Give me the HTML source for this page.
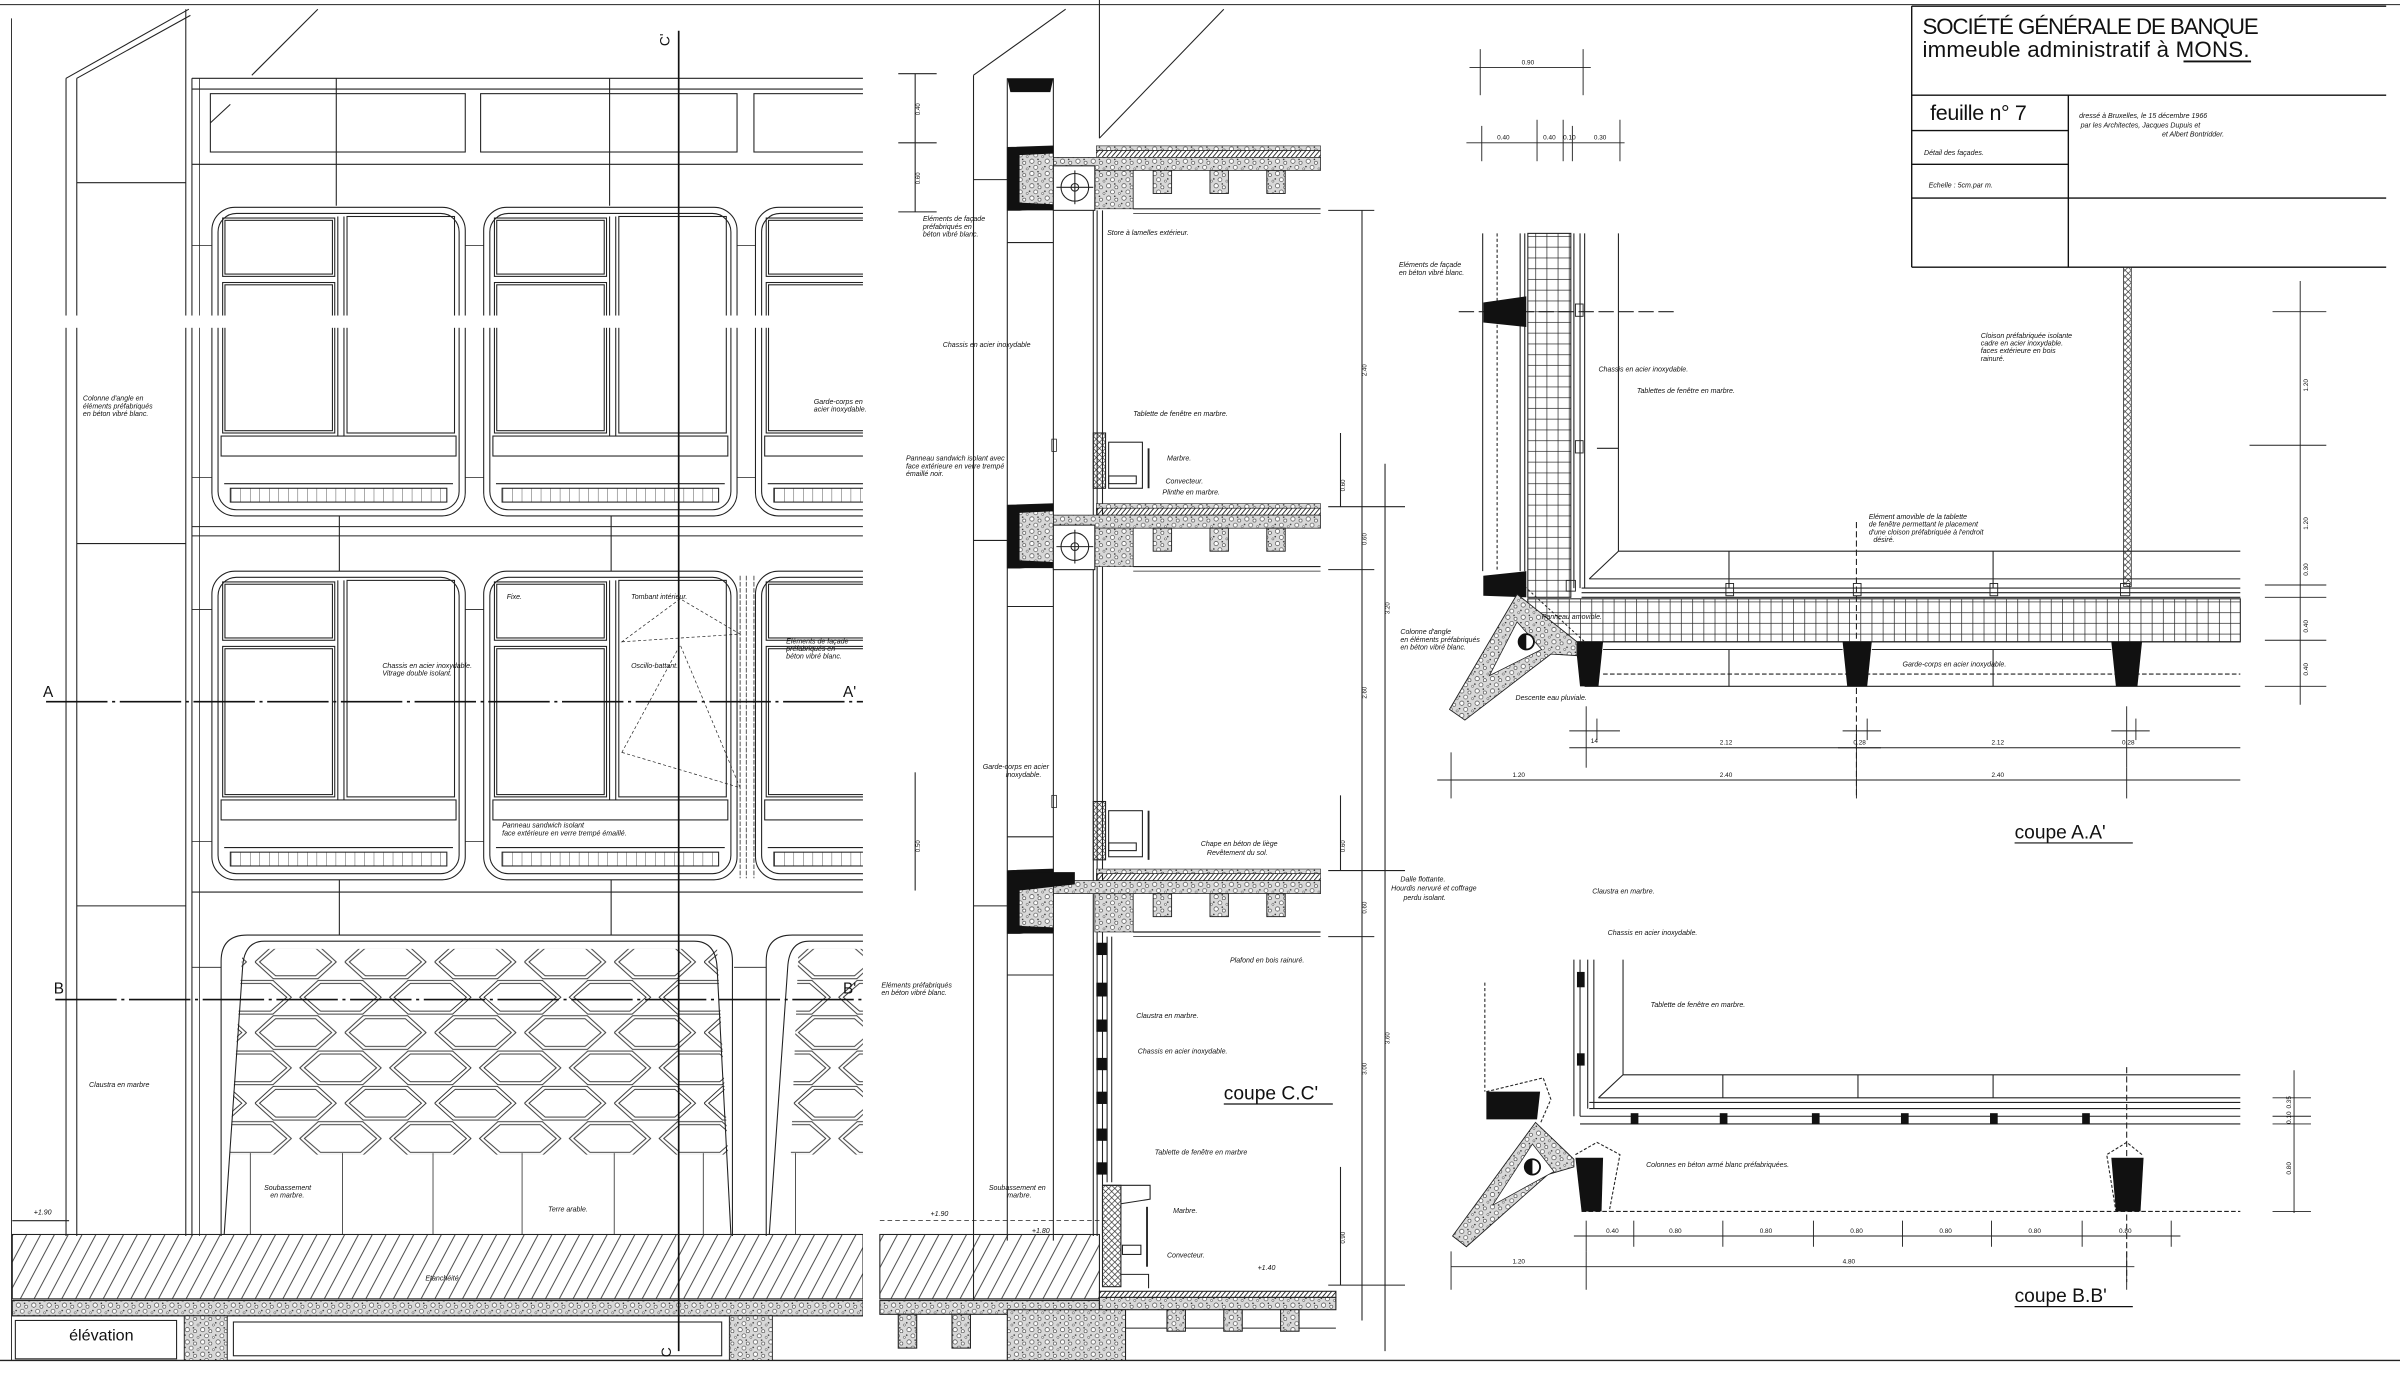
<!DOCTYPE html>
<html><head><meta charset="utf-8"><style>
html,body{margin:0;padding:0;background:#fff;}
svg{display:block;}
.t{font-family:"Liberation Sans",sans-serif;font-style:italic;font-size:4.6px;fill:#111;}
.T{font-family:"Liberation Sans",sans-serif;fill:#111;}
</style></head><body>
<svg width="2400" height="1398" viewBox="0 0 1563 910.5" preserveAspectRatio="none" xmlns="http://www.w3.org/2000/svg">
<defs>
<pattern id="hatch" patternUnits="userSpaceOnUse" width="9" height="40" patternTransform="skewX(-28)">
<line x1="4" y1="0" x2="4" y2="40" stroke="#222" stroke-width="0.6"/></pattern>
<pattern id="fine" patternUnits="userSpaceOnUse" width="3" height="10" patternTransform="skewX(-40)">
<line x1="1" y1="0" x2="1" y2="10" stroke="#111" stroke-width="0.7"/></pattern>
<pattern id="grav" patternUnits="userSpaceOnUse" width="10" height="8">
<rect width="10" height="8" fill="#d8d8d8"/>
<circle cx="2" cy="2" r="1.4" fill="#fff" stroke="#222" stroke-width="0.35"/>
<circle cx="7" cy="3" r="1" fill="#fff" stroke="#222" stroke-width="0.35"/>
<circle cx="4.5" cy="6" r="1.3" fill="#fff" stroke="#222" stroke-width="0.35"/>
<circle cx="9" cy="7" r="0.7" fill="#fff" stroke="#222" stroke-width="0.3"/>
<circle cx="0.5" cy="5.5" r="0.5" fill="#222"/><circle cx="6" cy="0.8" r="0.5" fill="#222"/>
</pattern>
<pattern id="grid" patternUnits="userSpaceOnUse" width="7.3" height="7">
<rect width="7.3" height="7" fill="none" stroke="#222" stroke-width="0.45"/></pattern>
<pattern id="xh" patternUnits="userSpaceOnUse" width="4" height="4">
<path d="M0 0L4 4M4 0L0 4" stroke="#222" stroke-width="0.4"/></pattern>
<pattern id="hex" patternUnits="userSpaceOnUse" x="166" y="615" width="58.5" height="46">
<g fill="none" stroke="#222" stroke-width="0.55">
<polygon points="0,11.5 12,0.5 41,0.5 53,11.5 41,22.5 12,22.5"/>
<polygon points="3,11.5 13.5,2.5 39.5,2.5 50,11.5 39.5,20.5 13.5,20.5"/>
<polygon points="29.25,34.5 41.25,23.5 70.25,23.5 82.25,34.5 70.25,45.5 41.25,45.5"/>
<polygon points="32.25,34.5 42.75,25.5 68.75,25.5 79.25,34.5 68.75,43.5 42.75,43.5"/>
<polygon points="-29.25,34.5 -17.25,23.5 11.75,23.5 23.75,34.5 11.75,45.5 -17.25,45.5"/>
<polygon points="-26.25,34.5 -15.75,25.5 10.25,25.5 20.75,34.5 10.25,43.5 -15.75,43.5"/>
</g></pattern>
<pattern id="grill" patternUnits="userSpaceOnUse" width="6.2" height="20">
<line x1="0" y1="0" x2="0" y2="20" stroke="#222" stroke-width="0.5"/></pattern>

<g id="win" fill="none" stroke="#222" stroke-width="0.7">
<rect x="0" y="0" width="165" height="201" rx="15"/>
<rect x="4" y="4" width="157" height="193" rx="12"/>
<rect x="7" y="7" width="73" height="38"/><rect x="8.5" y="8.5" width="70" height="35"/>
<rect x="7" y="49" width="73" height="98"/><rect x="8.5" y="50.5" width="70" height="95"/>
<line x1="82" y1="6" x2="82" y2="149"/><line x1="86" y1="6" x2="86" y2="149"/>
<rect x="88" y="6" width="70" height="141"/>
<rect x="6" y="149" width="153" height="13"/>
<line x1="8" y1="180" x2="157" y2="180"/>
<rect x="12" y="183" width="141" height="9" fill="url(#grill)"/>
</g>
<g id="slab">
<rect x="714" y="0" width="146" height="3" fill="url(#grav)" stroke="#222" stroke-width="0.4"/>
<rect x="714" y="3" width="146" height="4.5" fill="url(#fine)" stroke="#222" stroke-width="0.4"/>
<rect x="686" y="7.5" width="174" height="8.5" fill="url(#grav)" stroke="#222" stroke-width="0.5"/>
<rect x="713" y="16" width="25" height="25" fill="url(#grav)" stroke="#222" stroke-width="0.4"/>
<rect x="751" y="16" width="12" height="15" fill="url(#grav)" stroke="#222" stroke-width="0.6"/>
<rect x="788" y="16" width="12" height="15" fill="url(#grav)" stroke="#222" stroke-width="0.6"/>
<rect x="825" y="16" width="12" height="15" fill="url(#grav)" stroke="#222" stroke-width="0.6"/>
<line x1="738" y1="41" x2="860" y2="41" stroke="#222" stroke-width="0.8"/>
<line x1="738" y1="44" x2="860" y2="44" stroke="#222" stroke-width="0.5"/>
<line x1="738" y1="16" x2="738" y2="41" stroke="#222" stroke-width="0.5"/>
<path d="M656 1L686 0V40L664 42L656 42Z" fill="url(#grav)" stroke="#222" stroke-width="0.5"/>
<path d="M656 1L686 0V5L664 6V37L686 38V42L656 42Z" fill="#111"/>
</g>
<clipPath id="elc"><rect x="0" y="0" width="562" height="910"/></clipPath>
</defs>

<rect width="1563" height="910.5" fill="#fff"/>
<g stroke="#222" fill="none">
<line x1="0" y1="3" x2="1563" y2="3" stroke-width="0.6"/>
<line x1="0" y1="886" x2="1563" y2="886" stroke-width="0.9"/>
<line x1="7.5" y1="12" x2="7.5" y2="886" stroke-width="0.6"/>
</g>

<!-- ELEVATION -->
<g clip-path="url(#elc)" stroke="#222" fill="none" stroke-width="0.7">
<line x1="43" y1="51" x2="43" y2="805"/><line x1="50" y1="51" x2="50" y2="805"/>
<line x1="43" y1="51" x2="123" y2="6"/><line x1="50" y1="51" x2="124" y2="10"/>
<line x1="164" y1="49" x2="207" y2="6"/>
<line x1="121" y1="6" x2="121" y2="805"/><line x1="125" y1="51" x2="125" y2="805"/>
<line x1="50" y1="119" x2="121" y2="119"/><line x1="50" y1="354" x2="121" y2="354"/><line x1="50" y1="590" x2="121" y2="590"/>
<line x1="125" y1="51" x2="562" y2="51"/><line x1="125" y1="58" x2="562" y2="58"/>
<line x1="125" y1="107" x2="562" y2="107"/>
<rect x="137" y="61" width="166" height="38"/><rect x="313" y="61" width="167" height="38"/><rect x="491" y="61" width="80" height="38"/>
<line x1="137" y1="80" x2="150" y2="68"/>
<line x1="219" y1="51" x2="219" y2="134"/><line x1="397" y1="51" x2="397" y2="134"/>
<use href="#win" x="138" y="135"/><use href="#win" x="315" y="135"/><use href="#win" x="492" y="135"/>
<use href="#win" x="138" y="372"/><use href="#win" x="315" y="372"/><use href="#win" x="492" y="372"/>
<line x1="125" y1="343" x2="562" y2="343"/><line x1="125" y1="349" x2="562" y2="349"/>
<line x1="125" y1="581" x2="562" y2="581"/>
<line x1="221" y1="336" x2="221" y2="372"/><line x1="398" y1="336" x2="398" y2="372"/>
<line x1="221" y1="573" x2="221" y2="609"/><line x1="398" y1="573" x2="398" y2="609"/>
<g stroke-width="0.5"><line x1="125" y1="160" x2="138" y2="160"/><line x1="303" y1="160" x2="315" y2="160"/><line x1="480" y1="160" x2="492" y2="160"/>
<line x1="125" y1="311" x2="138" y2="311"/><line x1="303" y1="311" x2="315" y2="311"/><line x1="480" y1="311" x2="492" y2="311"/>
<line x1="125" y1="397" x2="138" y2="397"/><line x1="303" y1="397" x2="315" y2="397"/>
<line x1="125" y1="548" x2="138" y2="548"/><line x1="303" y1="548" x2="315" y2="548"/>
<line x1="125" y1="630" x2="144" y2="630"/><line x1="478" y1="630" x2="499" y2="630"/>
<line x1="130" y1="51" x2="130" y2="805"/>
</g>
<g stroke-width="0.45" stroke-dasharray="2,1.5"><path d="M405 418L482 413L443 390Z"/><path d="M405 490L482 513L443 420Z"/></g>
<g stroke-width="0.5" stroke-dasharray="3,1"><line x1="482" y1="375" x2="482" y2="572"/><line x1="486" y1="375" x2="486" y2="572"/><line x1="491" y1="375" x2="491" y2="572"/></g>
<path d="M158 618L467 618L477 804L146 804Z" fill="url(#hex)" stroke="none"/>
<rect x="146" y="752" width="332" height="53" fill="#fff" stroke="none"/>
<path d="M144 805V626Q144 609 161 609H461Q477 609 477 626V805"/>
<path d="M146 804L158 630Q159 613 172 613H452Q466 613 467 630L476 804"/>
<path d="M499 805V626Q499 609 516 609H570"/>
<path d="M520 618L580 618L580 752L515 752Z" fill="url(#hex)" stroke="none"/>
<path d="M501 804L513 630Q514 613 527 613H570"/>
<g stroke-width="0.5"><line x1="163" y1="751" x2="163" y2="804"/><line x1="223" y1="751" x2="223" y2="804"/><line x1="282" y1="751" x2="282" y2="804"/><line x1="340" y1="751" x2="340" y2="804"/><line x1="400" y1="751" x2="400" y2="804"/><line x1="458" y1="751" x2="458" y2="804"/>
<line x1="518" y1="751" x2="518" y2="804"/></g>
<rect x="8" y="804" width="554" height="42" fill="url(#hatch)"/>
<line x1="8" y1="804" x2="562" y2="804"/><line x1="8" y1="846" x2="562" y2="846"/>
<rect x="8" y="847" width="554" height="10" fill="url(#grav)"/>
<line x1="8" y1="857" x2="562" y2="857"/>
<rect x="120" y="857" width="28" height="29" fill="url(#grav)" stroke-width="0.6"/>
<rect x="475" y="857" width="28" height="29" fill="url(#grav)" stroke-width="0.6"/>
<rect x="152" y="861" width="318" height="22"/>
<rect x="10" y="860" width="105" height="25"/>
<line x1="8" y1="795" x2="45" y2="795"/>
</g>
<rect x="20" y="205.5" width="545" height="8" fill="#fff"/>
<g stroke="#111" stroke-width="1.1" fill="none">
<line x1="30" y1="457" x2="562" y2="457" stroke-dasharray="40,3,2,3"/>
<line x1="36" y1="651" x2="562" y2="651" stroke-dasharray="40,3,2,3"/>
<line x1="442" y1="20" x2="442" y2="880"/>
</g>
<text class="T" x="28" y="454" font-size="10">A</text>
<text class="T" x="549" y="454" font-size="10">A'</text>
<text class="T" x="35" y="647" font-size="10">B</text>
<text class="T" x="549" y="647" font-size="10">B'</text>
<text class="T" x="0" y="0" font-size="9" transform="translate(436,30) rotate(-90)">C'</text>
<text class="T" x="0" y="0" font-size="9" transform="translate(437,884) rotate(-90)">C</text>
<text class="T" x="45" y="873" font-size="10.5">élévation</text>
<g class="t">
<text x="54" y="261">Colonne d'angle en</text><text x="54" y="266">éléments préfabriqués</text><text x="54" y="271">en béton vibré blanc.</text>
<text x="530" y="263">Garde-corps en</text><text x="530" y="268">acier inoxydable.</text>
<text x="330" y="390">Fixe.</text><text x="411" y="390">Tombant intérieur.</text>
<text x="512" y="419">Eléments de façade</text><text x="512" y="424">préfabriqués en</text><text x="512" y="429">béton vibré blanc.</text>
<text x="249" y="435">Chassis en acier inoxydable.</text><text x="249" y="440">Vitrage double isolant.</text>
<text x="411" y="435">Oscillo-battant.</text>
<text x="327" y="539">Panneau sandwich isolant</text><text x="327" y="544">face extérieure en verre trempé émaillé.</text>
<text x="58" y="708">Claustra en marbre</text>
<text x="172" y="775">Soubassement</text><text x="176" y="780">en marbre.</text>
<text x="357" y="789">Terre arable.</text><text x="277" y="834">Etanchéité</text><text x="22" y="791">+1.90</text>
</g>

<!-- COUPE C-C -->
<g stroke="#222" fill="none" stroke-width="0.7">
<line x1="634" y1="49" x2="634" y2="848"/><line x1="634" y1="49" x2="694" y2="6"/>
<line x1="716" y1="0" x2="716" y2="90"/><line x1="716" y1="90" x2="797" y2="6"/>
<line x1="656" y1="51" x2="656" y2="808"/><line x1="686" y1="51" x2="686" y2="808"/>
<line x1="634" y1="117" x2="656" y2="117"/><line x1="634" y1="352" x2="656" y2="352"/><line x1="634" y1="590" x2="656" y2="590"/>
<line x1="656" y1="158" x2="686" y2="158"/><line x1="656" y1="395" x2="686" y2="395"/><line x1="656" y1="545" x2="686" y2="545"/><line x1="656" y1="635" x2="686" y2="635"/>
<line x1="712" y1="137" x2="712" y2="805"/><line x1="714.5" y1="137" x2="714.5" y2="805"/><line x1="718" y1="137" x2="718" y2="805"/>
</g>
<path d="M656 51H686L684 60H658Z" fill="#111"/>
<use href="#slab" y="95"/><use href="#slab" y="328"/><use href="#slab" y="566"/>
<g stroke="#222" fill="none" stroke-width="0.7">
<rect x="686" y="108" width="27" height="29" fill="#fff"/><circle cx="700" cy="122" r="9"/><circle cx="700" cy="122" r="2.5"/><line x1="688" y1="122" x2="712" y2="122"/><line x1="700" y1="111" x2="700" y2="133"/>
<rect x="686" y="342" width="27" height="29" fill="#fff"/><circle cx="700" cy="356" r="9"/><circle cx="700" cy="356" r="2.5"/><line x1="688" y1="356" x2="712" y2="356"/><line x1="700" y1="345" x2="700" y2="367"/>
<rect x="712" y="282" width="8" height="36" fill="url(#xh)"/><rect x="722" y="288" width="22" height="30"/><rect x="722" y="310" width="18" height="5"/><line x1="748" y1="292" x2="748" y2="318" stroke-width="1.2"/>
<rect x="712" y="522" width="8" height="38" fill="url(#xh)"/><rect x="722" y="528" width="22" height="30"/><rect x="722" y="549" width="18" height="5"/><line x1="748" y1="528" x2="748" y2="560" stroke-width="1.2"/>
<rect x="685" y="286" width="3" height="8" stroke-width="0.5"/><rect x="685" y="518" width="3" height="8" stroke-width="0.5"/>
</g>
<path d="M656 568H700V576L664 580V608H656Z" fill="#111"/>
<g fill="#111"><rect x="714" y="614" width="7" height="8"/><rect x="714" y="640" width="7" height="9"/><rect x="714" y="664" width="7" height="8"/><rect x="714" y="689" width="7" height="8"/><rect x="714" y="711" width="7" height="8"/><rect x="714" y="735" width="7" height="8"/><rect x="714" y="757" width="7" height="8"/></g>
<g stroke="#222" fill="none" stroke-width="0.7">
<line x1="721" y1="610" x2="721" y2="770"/><line x1="724" y1="610" x2="724" y2="770"/>
<rect x="718" y="772" width="12" height="66" fill="url(#xh)"/>
<path d="M718 772H749V781L730 784"/><line x1="747" y1="786" x2="747" y2="825" stroke-width="1.2"/>
<rect x="731" y="811" width="12" height="6"/><path d="M730 830H748V839"/>
<rect x="573" y="804" width="143" height="42" fill="url(#hatch)"/>
<line x1="573" y1="804" x2="716" y2="804"/><line x1="573" y1="846" x2="716" y2="846"/>
<line x1="573" y1="795" x2="720" y2="795" stroke-dasharray="3,2" stroke-width="0.5"/>
<rect x="573" y="847" width="143" height="9" fill="url(#grav)"/>
<rect x="716" y="841" width="154" height="4" fill="url(#fine)"/>
<rect x="716" y="845" width="154" height="8" fill="url(#grav)"/>
<line x1="730" y1="865" x2="870" y2="865"/>
<rect x="656" y="853" width="77" height="33" fill="url(#grav)"/>
<rect x="585" y="856" width="12" height="22" fill="url(#grav)"/><rect x="620" y="856" width="12" height="22" fill="url(#grav)"/>
<rect x="760" y="853" width="12" height="14" fill="url(#grav)"/><rect x="797" y="853" width="12" height="14" fill="url(#grav)"/><rect x="834" y="853" width="12" height="14" fill="url(#grav)"/>
<line x1="887" y1="137" x2="887" y2="860"/><line x1="902" y1="302" x2="902" y2="880"/>
<line x1="596" y1="48" x2="596" y2="138"/><line x1="596" y1="503" x2="596" y2="580"/>
<line x1="585" y1="48" x2="610" y2="48"/><line x1="585" y1="93" x2="610" y2="93"/><line x1="585" y1="138" x2="610" y2="138"/>
<line x1="865" y1="137" x2="895" y2="137"/><line x1="865" y1="330" x2="915" y2="330"/><line x1="865" y1="371" x2="895" y2="371"/><line x1="865" y1="567" x2="915" y2="567"/><line x1="865" y1="610" x2="895" y2="610"/><line x1="865" y1="837" x2="915" y2="837"/>
<line x1="873" y1="282" x2="873" y2="330"/><line x1="873" y1="518" x2="873" y2="567"/><line x1="873" y1="760" x2="873" y2="837"/>
</g>
<g class="T" font-size="4" transform="rotate(-90)">
<text x="-245" y="890">2.40</text><text x="-455" y="890">2.60</text><text x="-700" y="890">3.00</text><text x="-400" y="905">3.20</text><text x="-680" y="905">3.60</text>
<text x="-355" y="890">0.60</text><text x="-595" y="890">0.60</text><text x="-320" y="876">0.60</text><text x="-555" y="876">0.60</text><text x="-810" y="876">0.90</text>
<text x="-120" y="599">0.60</text><text x="-75" y="599">0.40</text><text x="-555" y="599">0.50</text>
</g>
<text class="T" x="797" y="716" font-size="12.5">coupe C.C'</text>
<line x1="797" y1="719" x2="868" y2="719" stroke="#111" stroke-width="0.8"/>
<g class="t">
<text x="601" y="144">Eléments de façade</text><text x="601" y="149">préfabriqués en</text><text x="601" y="154">béton vibré blanc.</text>
<text x="721" y="153">Store à lamelles extérieur.</text>
<text x="614" y="226">Chassis en acier inoxydable</text>
<text x="738" y="271">Tablette de fenêtre en marbre.</text>
<text x="590" y="300">Panneau sandwich isolant avec</text><text x="590" y="305">face extérieure en verre trempé</text><text x="590" y="310">émaillé noir.</text>
<text x="760" y="300">Marbre.</text><text x="759" y="315">Convecteur.</text><text x="757" y="322">Plinthe en marbre.</text>
<text x="640" y="501">Garde-corps en acier</text><text x="655" y="506">inoxydable.</text>
<text x="782" y="551">Chape en béton de liège</text><text x="786" y="557">Revêtement du sol.</text>
<text x="912" y="574">Dalle flottante.</text><text x="906" y="580">Hourdis nervuré et coffrage</text><text x="914" y="586">perdu isolant.</text>
<text x="801" y="627">Plafond en bois rainuré.</text>
<text x="574" y="643">Eléments préfabriqués</text><text x="574" y="648">en béton vibré blanc.</text>
<text x="740" y="663">Claustra en marbre.</text><text x="741" y="686">Chassis en acier inoxydable.</text>
<text x="752" y="752">Tablette de fenêtre en marbre</text>
<text x="644" y="775">Soubassement en</text><text x="656" y="780">marbre.</text>
<text x="764" y="790">Marbre.</text><text x="760" y="819">Convecteur.</text>
<text x="819" y="827">+1.40</text><text x="672" y="803">+1.80</text><text x="606" y="792">+1.90</text>
</g>

<!-- TITLE BLOCK -->
<g stroke="#111" fill="none" stroke-width="0.9">
<line x1="1245" y1="4" x2="1245" y2="174"/><line x1="1245" y1="4" x2="1554" y2="4"/>
<line x1="1245" y1="62" x2="1554" y2="62"/><line x1="1245" y1="85" x2="1347" y2="85"/>
<line x1="1245" y1="107" x2="1347" y2="107"/><line x1="1245" y1="129" x2="1554" y2="129"/>
<line x1="1347" y1="62" x2="1347" y2="174"/><line x1="1245" y1="174" x2="1554" y2="174"/>
</g>
<text class="T" x="1252" y="22" font-size="14.5" textLength="219">SOCIÉTÉ GÉNÉRALE DE BANQUE</text>
<text class="T" x="1252" y="37" font-size="14.5" textLength="213">immeuble administratif à MONS.</text>
<line x1="1422" y1="40" x2="1466" y2="40" stroke="#111" stroke-width="1.2"/>
<text class="T" x="1257" y="78" font-size="14" textLength="63">feuille n° 7</text>
<g class="t" font-size="4.6">
<text x="1253" y="101">Détail des façades.</text><text x="1256" y="122">Echelle : 5cm.par m.</text>
<text x="1354" y="77">dressé à Bruxelles, le 15 décembre 1966</text>
<text x="1355" y="83">par les Architectes, Jacques Dupuis et</text>
<text x="1408" y="89">et Albert Bontridder.</text>
</g>

<!-- COUPE A-A -->
<g stroke="#222" fill="none" stroke-width="0.7">
<line x1="965.6" y1="152" x2="965.6" y2="372"/><line x1="975" y1="152" x2="975" y2="372" stroke-dasharray="2,1.5"/>
<line x1="990" y1="152" x2="990" y2="372"/><line x1="993" y1="152" x2="993" y2="372"/>
<rect x="995" y="152" width="28" height="237" fill="url(#grid)"/>
<line x1="1025" y1="152" x2="1025" y2="383"/><line x1="1029" y1="152" x2="1029" y2="383"/><line x1="1032" y1="152" x2="1032" y2="383"/>
<line x1="1054" y1="152" x2="1054" y2="359"/>
<line x1="1054" y1="359" x2="1459" y2="359"/><line x1="1054" y1="359" x2="1035" y2="377"/>
<line x1="1035" y1="377" x2="1459" y2="377"/>
<line x1="1030" y1="383" x2="1459" y2="383"/><line x1="1030" y1="386" x2="1459" y2="386"/><line x1="1030" y1="389" x2="1459" y2="389"/>
<rect x="995" y="390" width="464" height="28" fill="url(#grid)"/>
<line x1="995" y1="418" x2="1459" y2="418"/>
<line x1="1044" y1="423" x2="1200" y2="423"/><line x1="1219" y1="423" x2="1375" y2="423"/>
<line x1="1044" y1="439" x2="1459" y2="439" stroke-dasharray="3,1.5"/>
<line x1="1032" y1="447" x2="1459" y2="447"/>
<line x1="1126" y1="359" x2="1126" y2="383"/><line x1="1298" y1="359" x2="1298" y2="383"/>
<line x1="1126" y1="423" x2="1126" y2="447"/><line x1="1298" y1="423" x2="1298" y2="447"/>
<line x1="1209" y1="340" x2="1209" y2="520" stroke-dasharray="4,2"/>
<line x1="950" y1="203" x2="1090" y2="203" stroke-dasharray="10,3"/><line x1="1040" y1="292" x2="1054" y2="292"/>
<line x1="993" y1="382" x2="1032" y2="418" stroke-dasharray="1.5,1.5"/>
<g stroke-width="0.6"><rect x="1020" y="378" width="6" height="7"/><rect x="1207" y="380" width="5" height="8"/><rect x="1296" y="380" width="5" height="8"/><rect x="1124" y="380" width="5" height="8"/><rect x="1381" y="380" width="6" height="8"/><rect x="1026" y="198" width="5" height="8"/><rect x="1026" y="287" width="5" height="8"/></g>
</g>
<rect x="1383" y="174" width="5" height="208" fill="url(#xh)" stroke="#222" stroke-width="0.5"/>
<path d="M966 197L994 193V213L966 210Z" fill="#111"/><path d="M966 375L994 372V389L966 388Z" fill="#111"/>
<path d="M1026 418H1044L1041 447H1029Z" fill="#111"/><path d="M1200 418H1219L1216 447H1203Z" fill="#111"/><path d="M1375 418H1395L1392 447H1378Z" fill="#111"/>
<path d="M944 462L988 387L1027 418V427L1010 426L954 469Z" fill="url(#grav)" stroke="#222" stroke-width="0.6"/>
<path d="M970 440L988 405L1004 423Z" fill="#fff" stroke="#222" stroke-width="0.5"/>
<circle cx="994" cy="418" r="5" fill="#fff" stroke="#111" stroke-width="1.2"/><path d="M994 413A5 5 0 0 0 994 423Z" fill="#111"/>
<g stroke="#222" stroke-width="0.6" fill="none">
<line x1="957" y1="44" x2="1036" y2="44"/><line x1="964" y1="32" x2="964" y2="62"/><line x1="1031" y1="32" x2="1031" y2="62"/>
<line x1="955" y1="93" x2="1058" y2="93"/><line x1="965" y1="82" x2="965" y2="105"/><line x1="1001" y1="78" x2="1001" y2="105"/><line x1="1018" y1="78" x2="1018" y2="105"/><line x1="1024" y1="82" x2="1024" y2="105"/><line x1="1055" y1="78" x2="1055" y2="105"/>
<line x1="1022" y1="487" x2="1459" y2="487"/><line x1="1033" y1="460" x2="1033" y2="500"/><line x1="1209" y1="475" x2="1209" y2="500"/><line x1="1385" y1="460" x2="1385" y2="500"/><line x1="1197" y1="487" x2="1225" y2="487"/>
<line x1="1022" y1="476" x2="1055" y2="476"/><line x1="1200" y1="476" x2="1225" y2="476"/><line x1="1375" y1="476" x2="1400" y2="476"/>
<line x1="1040" y1="468" x2="1040" y2="482"/><line x1="1216" y1="468" x2="1216" y2="482"/><line x1="1391" y1="468" x2="1391" y2="482"/>
<line x1="936" y1="508" x2="1459" y2="508"/><line x1="945" y1="490" x2="945" y2="520"/><line x1="1209" y1="500" x2="1209" y2="520"/><line x1="1385" y1="500" x2="1385" y2="520"/>
<line x1="1498" y1="183" x2="1498" y2="459"/><line x1="1480" y1="203" x2="1515" y2="203"/><line x1="1465" y1="290" x2="1515" y2="290"/><line x1="1475" y1="381" x2="1515" y2="381"/><line x1="1475" y1="389" x2="1515" y2="389"/><line x1="1475" y1="417" x2="1515" y2="417"/><line x1="1475" y1="447" x2="1515" y2="447"/>
</g>
<g class="T" font-size="4.2">
<text x="991" y="42">0.90</text><text x="975" y="91">0.40</text><text x="1005" y="91">0.40</text><text x="1018" y="91">0.10</text><text x="1038" y="91">0.30</text>
<text x="1036" y="484">14</text><text x="1120" y="485">2.12</text><text x="1207" y="485">0.28</text><text x="1297" y="485">2.12</text><text x="1382" y="485">0.28</text>
<text x="985" y="506">1.20</text><text x="1120" y="506">2.40</text><text x="1297" y="506">2.40</text>
</g>
<g class="T" font-size="4.2" transform="rotate(-90)"><text x="-255" y="1503">1.20</text><text x="-345" y="1503">1.20</text><text x="-375" y="1503">0.30</text><text x="-412" y="1503">0.40</text><text x="-440" y="1503">0.40</text></g>
<text class="T" x="1312" y="546" font-size="12.5">coupe A.A'</text>
<line x1="1312" y1="549" x2="1389" y2="549" stroke="#111" stroke-width="0.8"/>
<g class="t">
<text x="911" y="174">Eléments de façade</text><text x="911" y="179">en béton vibré blanc.</text>
<text x="1041" y="242">Chassis en acier inoxydable.</text><text x="1066" y="256">Tablettes de fenêtre en marbre.</text>
<text x="1290" y="220">Cloison préfabriquée isolante</text><text x="1290" y="225">cadre en acier inoxydable.</text><text x="1290" y="230">faces extérieure en bois</text><text x="1290" y="235">rainuré.</text>
<text x="1217" y="338">Elément amovible de la tablette</text><text x="1217" y="343">de fenêtre permettant le placement</text><text x="1217" y="348">d'une cloison préfabriquée à l'endroit</text><text x="1220" y="353">désiré.</text>
<text x="1004" y="403">Panneau amovible.</text>
<text x="912" y="413">Colonne d'angle</text><text x="912" y="418">en éléments préfabriqués</text><text x="912" y="423">en béton vibré blanc.</text>
<text x="1239" y="434">Garde-corps en acier inoxydable.</text><text x="987" y="456">Descente eau pluviale.</text>
</g>

<!-- COUPE B-B -->
<g stroke="#222" fill="none" stroke-width="0.7">
<line x1="1025" y1="625" x2="1025" y2="727"/><line x1="1029" y1="625" x2="1029" y2="727"/><line x1="1034" y1="625" x2="1034" y2="722"/><line x1="1038" y1="625" x2="1038" y2="722"/>
<line x1="1057" y1="625" x2="1057" y2="700"/><line x1="1057" y1="700" x2="1459" y2="700"/><line x1="1057" y1="700" x2="1041" y2="715"/>
<line x1="1041" y1="715" x2="1459" y2="715"/><line x1="1035" y1="718" x2="1459" y2="718"/><line x1="1035" y1="722" x2="1459" y2="722"/>
<line x1="1029" y1="727" x2="1459" y2="727"/><line x1="1029" y1="732" x2="1459" y2="732"/>
<line x1="1122" y1="700" x2="1122" y2="715"/><line x1="1210" y1="700" x2="1210" y2="715"/><line x1="1298" y1="700" x2="1298" y2="715"/>
<line x1="1030" y1="789" x2="1459" y2="789" stroke-dasharray="3,1.5"/>
<line x1="967" y1="640" x2="967" y2="711" stroke-dasharray="2,1.5"/>
<line x1="1385" y1="695" x2="1385" y2="835" stroke-dasharray="4,2"/>
<path d="M968 711L1005 702L1010 716L1003 732"  stroke-dasharray="2,1.2"/>
<path d="M1026 752L1040 744L1055 752L1048 789" stroke-dasharray="2,1.2"/>
<path d="M1395 752L1385 744L1372 752L1378 789" stroke-dasharray="2,1.2"/>
</g>
<path d="M968 711L1003 711L1001 729L968 729Z" fill="#111"/>
<g fill="#111"><rect x="1062" y="725" width="5" height="7"/><rect x="1120" y="725" width="5" height="7"/><rect x="1180" y="725" width="5" height="7"/><rect x="1238" y="725" width="5" height="7"/><rect x="1296" y="725" width="5" height="7"/><rect x="1356" y="725" width="5" height="7"/><rect x="1027" y="633" width="5" height="10"/><rect x="1027" y="686" width="5" height="8"/></g>
<path d="M1026 754H1044L1043 789H1030Z" fill="#111"/><path d="M1375 754H1396L1394 789H1378Z" fill="#111"/>
<path d="M946 805L1000 731L1025 755V760L1008 765L955 812Z" fill="url(#grav)" stroke="#222" stroke-width="0.6"/>
<path d="M972 785L998 745L1012 763Z" fill="#fff" stroke="#222" stroke-width="0.5"/>
<circle cx="998" cy="760" r="5" fill="#fff" stroke="#111" stroke-width="1.2"/><path d="M998 755A5 5 0 0 0 998 765Z" fill="#111"/>
<g stroke="#222" stroke-width="0.6" fill="none">
<line x1="1025" y1="805" x2="1420" y2="805"/>
<line x1="1033" y1="795" x2="1033" y2="815"/><line x1="1064" y1="795" x2="1064" y2="812"/><line x1="1122" y1="795" x2="1122" y2="812"/><line x1="1181" y1="795" x2="1181" y2="812"/><line x1="1239" y1="795" x2="1239" y2="812"/><line x1="1297" y1="795" x2="1297" y2="812"/><line x1="1356" y1="795" x2="1356" y2="812"/><line x1="1414" y1="795" x2="1414" y2="812"/>
<line x1="945" y1="825" x2="1390" y2="825"/><line x1="945" y1="815" x2="945" y2="840"/><line x1="1033" y1="815" x2="1033" y2="840"/><line x1="1385" y1="815" x2="1385" y2="840"/>
<line x1="1494" y1="697" x2="1494" y2="790"/><line x1="1480" y1="715" x2="1505" y2="715"/><line x1="1480" y1="727" x2="1505" y2="727"/><line x1="1480" y1="732" x2="1505" y2="732"/><line x1="1480" y1="789" x2="1505" y2="789"/>
</g>
<g class="T" font-size="4.2">
<text x="1046" y="803">0.40</text><text x="1087" y="803">0.80</text><text x="1146" y="803">0.80</text><text x="1205" y="803">0.80</text><text x="1263" y="803">0.80</text><text x="1321" y="803">0.80</text><text x="1380" y="803">0.80</text>
<text x="985" y="823">1.20</text><text x="1200" y="823">4.80</text>
</g>
<g class="T" font-size="4.2" transform="rotate(-90)"><text x="-722" y="1492">0.35</text><text x="-732" y="1492">0.10</text><text x="-765" y="1492">0.80</text></g>
<text class="T" x="1312" y="848" font-size="12.5">coupe B.B'</text>
<line x1="1312" y1="851" x2="1389" y2="851" stroke="#111" stroke-width="0.8"/>
<g class="t">
<text x="1037" y="582">Claustra en marbre.</text><text x="1047" y="609">Chassis en acier inoxydable.</text>
<text x="1075" y="656">Tablette de fenêtre en marbre.</text>
<text x="1072" y="760">Colonnes en béton armé blanc préfabriquées.</text>
</g>
</svg>
</body></html>
